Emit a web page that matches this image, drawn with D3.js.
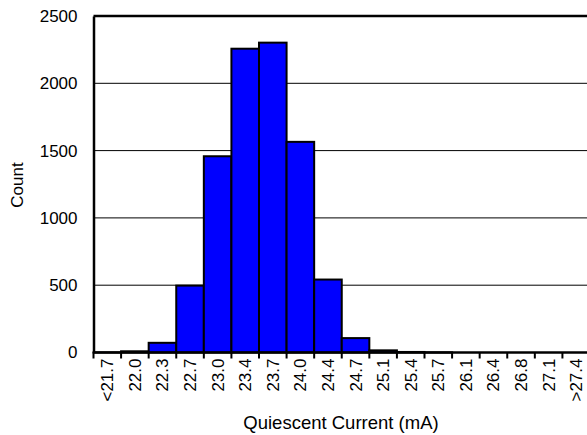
<!DOCTYPE html>
<html>
<head>
<meta charset="utf-8">
<script src="https://cdn.jsdelivr.net/npm/d3@7"></script>
<style>
  html, body { margin: 0; padding: 0; background: #fff; overflow: hidden; }
  svg { display: block; font-family: "Liberation Sans", Arial, sans-serif; }
</style>
</head>
<body>
<svg id="chart" width="587" height="435"></svg>
<script>
// Histogram bins of quiescent current (mA) and the count in each bin
const binLabels = ["<21.7", "22.0", "22.3", "22.7", "23.0", "23.4", "23.7", "24.0", "24.4",
                   "24.7", "25.1", "25.4", "25.7", "26.1", "26.4", "26.8", "27.1", ">27.4"];
const counts = [1, 9, 72, 497, 1458, 2257, 2302, 1565, 542, 107, 16, 4, 1, 0, 0, 0, 0, 0];
const yTicks = [0, 500, 1000, 1500, 2000, 2500];

const svg = d3.select("#chart");
const plot = { left: 93.5, top: 16, right: 590, bottom: 352.5 };

const x = d3.scaleBand().domain(binLabels).range([plot.left, plot.right]).padding(0);
const y = d3.scaleLinear().domain([0, 2500]).range([plot.bottom, plot.top]);

// Horizontal gridlines
svg.append("g").selectAll("line")
  .data(yTicks.filter(d => d > 0 && d < 2500))
  .join("line")
  .attr("x1", plot.left).attr("x2", plot.right)
  .attr("y1", d => y(d)).attr("y2", d => y(d))
  .attr("stroke", "#000").attr("stroke-width", 1);

// Bars
svg.append("g").selectAll("rect")
  .data(counts)
  .join("rect")
  .attr("x", (d, i) => x(binLabels[i]))
  .attr("y", d => y(d))
  .attr("width", x.bandwidth())
  .attr("height", d => y(0) - y(d))
  .attr("fill", "#0000FF")
  .attr("stroke", "#000")
  .attr("stroke-width", 2);

// Frame: top border
svg.append("line")
  .attr("x1", plot.left).attr("x2", plot.right)
  .attr("y1", plot.top).attr("y2", plot.top)
  .attr("stroke", "#000").attr("stroke-width", 2.5);

// Y axis
const yAxis = d3.axisLeft(y).tickValues(yTicks).tickSize(0).tickPadding(16).tickFormat(d3.format("d"));
const gy = svg.append("g").attr("transform", `translate(${plot.left},0)`).call(yAxis);
gy.select(".domain").attr("stroke", "#000").attr("stroke-width", 2.5);
gy.selectAll("text").attr("font-size", 17).attr("fill", "#000")
  .attr("font-family", "'Liberation Sans', Arial, sans-serif");

// X axis: ticks at bin edges, labels centred in each bin and rotated
const gx = svg.append("g").attr("transform", `translate(0,${plot.bottom})`);
gx.append("line")
  .attr("x1", plot.left).attr("x2", plot.right)
  .attr("y1", 0).attr("y2", 0)
  .attr("stroke", "#000").attr("stroke-width", 2.5);
const edges = binLabels.map(b => x(b)).concat([x(binLabels[binLabels.length - 1]) + x.bandwidth()]);
gx.selectAll("line.edge")
  .data(edges)
  .join("line")
  .attr("class", "edge")
  .attr("x1", d => d).attr("x2", d => d)
  .attr("y1", 0).attr("y2", 6)
  .attr("stroke", "#000").attr("stroke-width", 2);
gx.selectAll("text")
  .data(binLabels)
  .join("text")
  .attr("transform", d => `translate(${x(d) + x.bandwidth() / 2 + 6},6) rotate(-90)`)
  .attr("text-anchor", "end")
  .attr("font-size", 17)
  .attr("fill", "#000")
  .text(d => d);

// Axis titles
svg.append("text")
  .attr("x", 341).attr("y", 429)
  .attr("text-anchor", "middle")
  .attr("font-size", 18.5)
  .attr("fill", "#000")
  .text("Quiescent Current (mA)");

svg.append("text")
  .attr("transform", "translate(23,185) rotate(-90)")
  .attr("text-anchor", "middle")
  .attr("font-size", 17)
  .attr("fill", "#000")
  .text("Count");
</script>
</body>
</html>
